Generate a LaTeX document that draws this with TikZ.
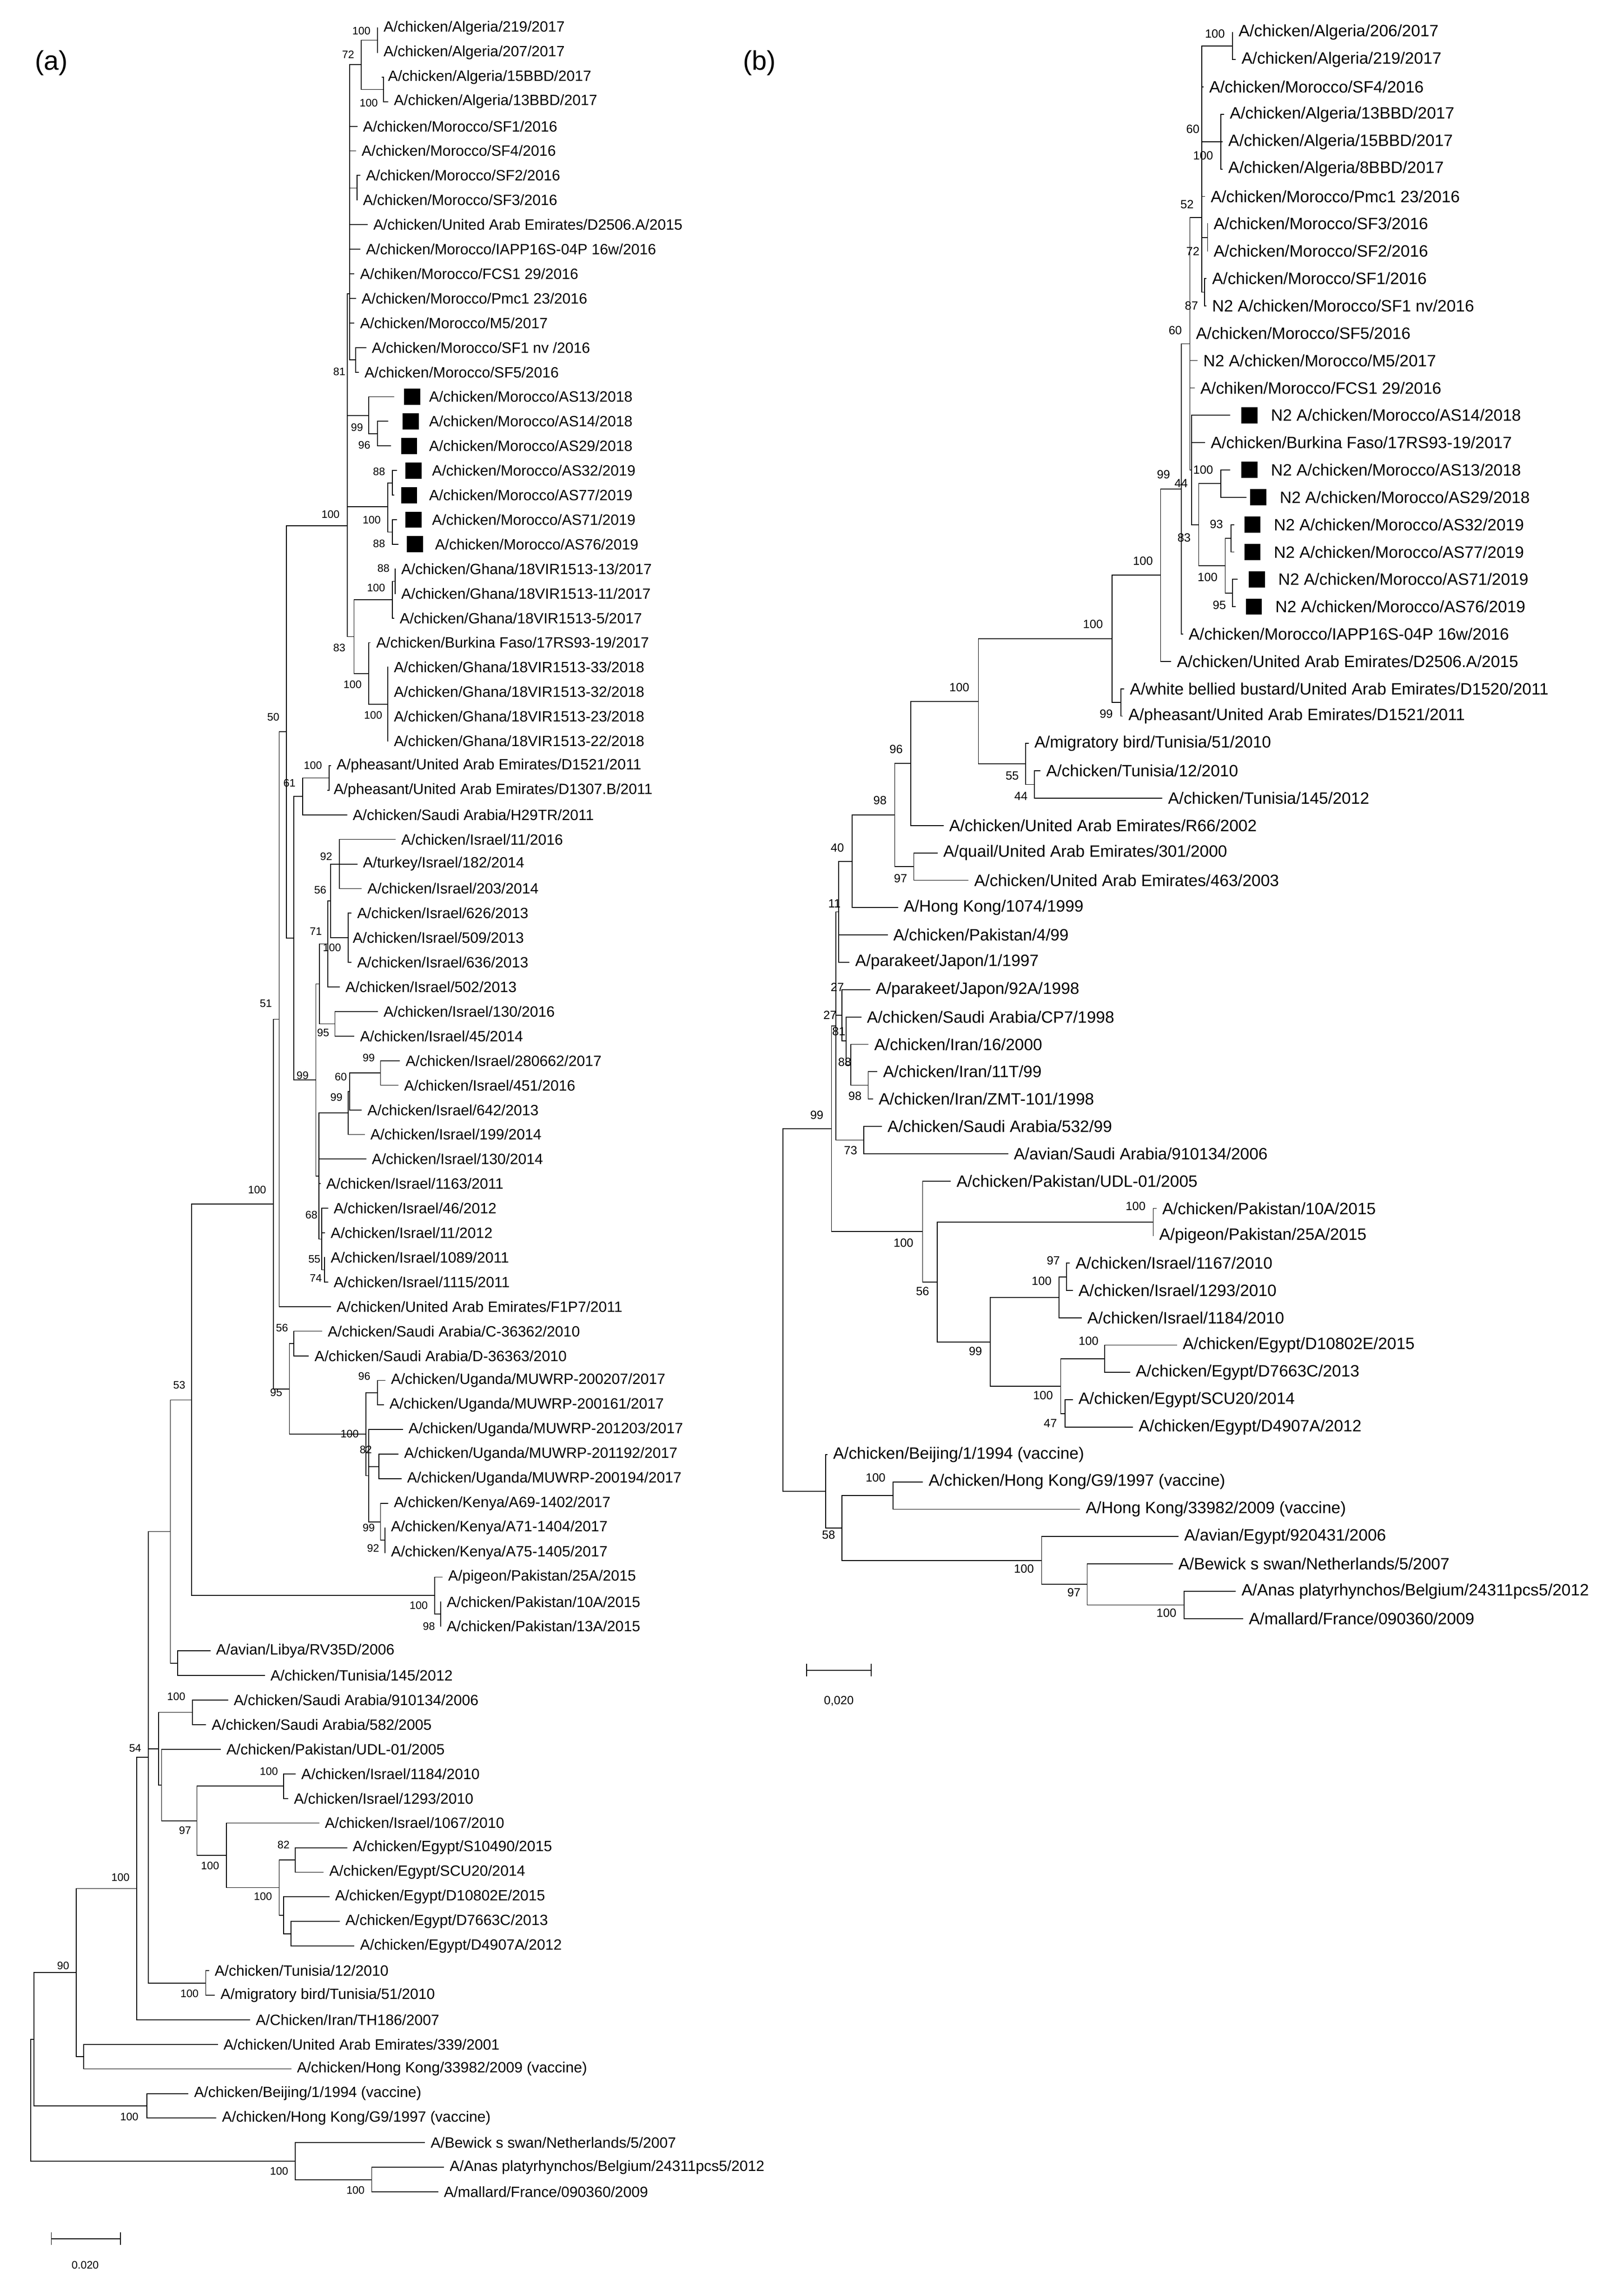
\documentclass[tikz,border=0pt]{standalone}
\usepackage{fontspec}
\setmainfont{Liberation Sans}
\tikzset{
 lbl/.style={anchor=west,inner sep=0pt,font=\fontsize{14.4}{16}\selectfont},
 bsl/.style={inner sep=0pt,font=\fontsize{10.5}{12}\selectfont},
 ttl/.style={inner sep=0pt,font=\fontsize{26}{30}\selectfont},
 br/.style={line width=0.8pt,line cap=rect}
}
\newcommand\LF[4]{\draw[br] (#1,#3) -- ({#2-4},#3); \node[lbl] at (#2,#3) {#4};}
\newcommand\LS[6]{\draw[br] (#1,#5) -- (#2,#5); \fill (#3,{#5-5.5}) rectangle ({#3+11},{#5+5.5}); \node[lbl] at (#4,#5) {#6};}
\newcommand\IN[5]{\draw[br] (#1,#2) -- (#1,#3); \draw[br] (#4,#5) -- (#1,#5);}
\newcommand\BS[3]{\node[bsl] at (#1,#2) {#3};}
\begin{document}
\begin{tikzpicture}[x=0.05cm,y=-0.05cm]
\useasboundingbox (0,0) rectangle (1100,1563);
\node[ttl] at (35,43) {(a)};
\node[ttl] at (517,43) {(b)};
% ================= (a) =================
\IN{257}{19}{35.7}{246}{27.4}
\IN{261}{52.5}{69.2}{246}{60.9}
\IN{246}{27.4}{60.9}{238}{44}
\IN{243}{119.4}{136.2}{238}{128}
\IN{242}{236.6}{253.4}{238}{245}
\IN{238}{44}{245}{236.5}{200}
\IN{257}{286.8}{303.6}{251}{295.2}
\IN{251}{270.1}{295.2}{236.5}{283}
\IN{267}{320.3}{337.1}{264}{328.7}
\IN{267}{353.8}{370.5}{264}{362.2}
\IN{264}{328.7}{362.2}{236.5}{345}
\IN{269}{387.3}{404}{267}{395.7}
\IN{267}{395.7}{420.8}{241}{408.2}
\IN{264}{454.2}{504.5}{251}{479.4}
\IN{251}{437.5}{479.4}{241}{458.5}
\IN{241}{408.2}{458.5}{236.5}{433.4}
\IN{236.5}{200}{433.4}{195}{358}
\IN{224}{521.2}{537.9}{206}{529.6}
\IN{206}{529.6}{554.7}{200}{542}
\IN{231}{571.4}{604.9}{225}{588.2}
\IN{237}{621.6}{655.1}{225}{638.4}
\IN{225}{588.2}{638.4}{223}{613.3}
\IN{223}{613.3}{671.9}{217.5}{642.6}
\IN{228}{688.6}{705.3}{217.5}{697}
\IN{217.5}{642.6}{697}{215}{669.8}
\IN{259}{722.1}{738.8}{238}{730.5}
\IN{238}{730.5}{755.6}{237}{743}
\IN{237}{743}{772.3}{217}{757.7}
\IN{221}{856}{872.7}{219}{864.4}
\IN{219}{822.5}{864.4}{217}{843.5}
\IN{217}{757.7}{843.5}{215}{800.6}
\IN{215}{669.8}{800.6}{200}{735.2}
\IN{200}{542}{735.2}{195}{638.6}
\IN{195}{358}{638.6}{190}{498}
\IN{190}{498}{889.5}{186}{693.8}
\IN{200}{906.2}{923}{197}{914.6}
\IN{257}{939.7}{956.4}{249}{948}
\IN{258}{989.9}{1006.7}{251}{998.3}
\IN{262}{1040.1}{1056.9}{259}{1048.5}
\IN{259}{1023.4}{1048.5}{251}{1036}
\IN{251}{973.2}{1036}{249}{1004.6}
\IN{249}{948}{1004.6}{197}{976.3}
\IN{197}{914.6}{976.3}{186}{945.5}
\IN{186}{693.8}{945.5}{130.5}{819.7}
\IN{300}{1090.4}{1107.1}{296}{1098.8}
\IN{296}{1073.6}{1098.8}{130.5}{1086.2}
\IN{130.5}{819.7}{1086.2}{116}{953}
\IN{121}{1123.8}{1140.6}{116}{1132.2}
\IN{116}{953}{1132.2}{101}{1042.6}
\IN{131}{1157.3}{1174.1}{108}{1165.7}
\IN{198}{1308}{1324.7}{193}{1316.4}
\IN{193}{1291.2}{1316.4}{190}{1303.8}
\IN{201}{1257.8}{1274.5}{190}{1266.2}
\IN{190}{1266.2}{1303.8}{154}{1285}
\IN{154}{1241}{1285}{134}{1263}
\IN{193}{1207.5}{1224.3}{134}{1215.9}
\IN{134}{1215.9}{1263}{110}{1239.5}
\IN{110}{1190.8}{1239.5}{108}{1215.1}
\IN{108}{1165.7}{1215.1}{101}{1190.4}
\IN{140}{1341.5}{1358.2}{101}{1349.9}
\IN{101}{1042.6}{1349.9}{93}{1196.2}
\IN{93}{1196.2}{1374.9}{52}{1285.6}
\IN{57}{1391.7}{1408.4}{52}{1400}
\IN{52}{1285.6}{1400}{23}{1342.8}
\IN{100}{1425.2}{1441.9}{23}{1433.5}
\IN{23}{1342.8}{1433.5}{21}{1388.2}
\IN{253}{1475.4}{1492.1}{201}{1483.8}
\IN{201}{1458.6}{1483.8}{21}{1471.2}
\draw[br] (21,1388.2) -- (21,1471.2);
% leaves (a)
\LF{257}{261}{19}{A/chicken/Algeria/219/2017}
\LF{257}{261}{35.7}{A/chicken/Algeria/207/2017}
\LF{261}{264}{52.5}{A/chicken/Algeria/15BBD/2017}
\LF{261}{268}{69.2}{A/chicken/Algeria/13BBD/2017}
\LF{238}{247}{86}{A/chicken/Morocco/SF1/2016}
\LF{238}{246}{102.7}{A/chicken/Morocco/SF4/2016}
\LF{243}{249}{119.4}{A/chicken/Morocco/SF2/2016}
\LF{243}{247}{136.2}{A/chicken/Morocco/SF3/2016}
\LF{238}{254}{152.9}{A/chicken/United Arab Emirates/D2506.A/2015}
\LF{238}{249}{169.7}{A/chicken/Morocco/IAPP16S-04P 16w/2016}
\LF{238}{245}{186.4}{A/chiken/Morocco/FCS1 29/2016}
\LF{238}{246}{203.1}{A/chicken/Morocco/Pmc1 23/2016}
\LF{238}{245}{219.9}{A/chicken/Morocco/M5/2017}
\LF{242}{253}{236.6}{A/chicken/Morocco/SF1 nv /2016}
\LF{242}{248}{253.4}{A/chicken/Morocco/SF5/2016}
\LS{251}{268}{275}{292}{270.1}{A/chicken/Morocco/AS13/2018}
\LS{257}{264}{274}{292}{286.8}{A/chicken/Morocco/AS14/2018}
\LS{257}{266}{273}{292}{303.6}{A/chicken/Morocco/AS29/2018}
\LS{267}{270}{276}{294}{320.3}{A/chicken/Morocco/AS32/2019}
\LS{267}{268}{273}{292}{337.1}{A/chicken/Morocco/AS77/2019}
\LS{267}{270}{276}{294}{353.8}{A/chicken/Morocco/AS71/2019}
\LS{267}{271}{277}{296}{370.5}{A/chicken/Morocco/AS76/2019}
\LF{269}{273}{387.3}{A/chicken/Ghana/18VIR1513-13/2017}
\LF{269}{273}{404}{A/chicken/Ghana/18VIR1513-11/2017}
\LF{267}{272}{420.8}{A/chicken/Ghana/18VIR1513-5/2017}
\LF{251}{256}{437.5}{A/chicken/Burkina Faso/17RS93-19/2017}
\LF{264}{268}{454.2}{A/chicken/Ghana/18VIR1513-33/2018}
\LF{264}{268}{471}{A/chicken/Ghana/18VIR1513-32/2018}
\LF{264}{268}{487.7}{A/chicken/Ghana/18VIR1513-23/2018}
\LF{264}{268}{504.5}{A/chicken/Ghana/18VIR1513-22/2018}
\LF{224}{229}{521.2}{A/pheasant/United Arab Emirates/D1521/2011}
\LF{224}{227}{537.9}{A/pheasant/United Arab Emirates/D1307.B/2011}
\LF{206}{240}{554.7}{A/chicken/Saudi Arabia/H29TR/2011}
\LF{231}{273}{571.4}{A/chicken/Israel/11/2016}
\LF{231}{247}{588.2}{A/turkey/Israel/182/2014}
\LF{231}{250}{604.9}{A/chicken/Israel/203/2014}
\LF{237}{243}{621.6}{A/chicken/Israel/626/2013}
\LF{237}{240}{638.4}{A/chicken/Israel/509/2013}
\LF{237}{243}{655.1}{A/chicken/Israel/636/2013}
\LF{223}{235}{671.9}{A/chicken/Israel/502/2013}
\LF{228}{261}{688.6}{A/chicken/Israel/130/2016}
\LF{228}{245}{705.3}{A/chicken/Israel/45/2014}
\LF{259}{276}{722.1}{A/chicken/Israel/280662/2017}
\LF{259}{275}{738.8}{A/chicken/Israel/451/2016}
\LF{238}{250}{755.6}{A/chicken/Israel/642/2013}
\LF{237}{252}{772.3}{A/chicken/Israel/199/2014}
\LF{217}{253}{789}{A/chicken/Israel/130/2014}
\LF{217}{222}{805.8}{A/chicken/Israel/1163/2011}
\LF{219}{227}{822.5}{A/chicken/Israel/46/2012}
\LF{219}{225}{839.3}{A/chicken/Israel/11/2012}
\LF{221}{225}{856}{A/chicken/Israel/1089/2011}
\LF{221}{227}{872.7}{A/chicken/Israel/1115/2011}
\LF{190}{229}{889.5}{A/chicken/United Arab Emirates/F1P7/2011}
\LF{200}{223}{906.2}{A/chicken/Saudi Arabia/C-36362/2010}
\LF{200}{214}{923}{A/chicken/Saudi Arabia/D-36363/2010}
\LF{257}{266}{939.7}{A/chicken/Uganda/MUWRP-200207/2017}
\LF{257}{265}{956.4}{A/chicken/Uganda/MUWRP-200161/2017}
\LF{251}{278}{973.2}{A/chicken/Uganda/MUWRP-201203/2017}
\LF{258}{275}{989.9}{A/chicken/Uganda/MUWRP-201192/2017}
\LF{258}{277}{1006.7}{A/chicken/Uganda/MUWRP-200194/2017}
\LF{259}{268}{1023.4}{A/chicken/Kenya/A69-1402/2017}
\LF{262}{266}{1040.1}{A/chicken/Kenya/A71-1404/2017}
\LF{262}{266}{1056.9}{A/chicken/Kenya/A75-1405/2017}
\LF{296}{305}{1073.6}{A/pigeon/Pakistan/25A/2015}
\LF{300}{304}{1090.4}{A/chicken/Pakistan/10A/2015}
\LF{300}{304}{1107.1}{A/chicken/Pakistan/13A/2015}
\LF{121}{147}{1123.8}{A/avian/Libya/RV35D/2006}
\LF{121}{184}{1140.6}{A/chicken/Tunisia/145/2012}
\LF{131}{159}{1157.3}{A/chicken/Saudi Arabia/910134/2006}
\LF{131}{144}{1174.1}{A/chicken/Saudi Arabia/582/2005}
\LF{110}{154}{1190.8}{A/chicken/Pakistan/UDL-01/2005}
\LF{193}{205}{1207.5}{A/chicken/Israel/1184/2010}
\LF{193}{200}{1224.3}{A/chicken/Israel/1293/2010}
\LF{154}{221}{1241}{A/chicken/Israel/1067/2010}
\LF{201}{240}{1257.8}{A/chicken/Egypt/S10490/2015}
\LF{201}{224}{1274.5}{A/chicken/Egypt/SCU20/2014}
\LF{193}{228}{1291.2}{A/chicken/Egypt/D10802E/2015}
\LF{198}{235}{1308}{A/chicken/Egypt/D7663C/2013}
\LF{198}{245}{1324.7}{A/chicken/Egypt/D4907A/2012}
\LF{140}{146}{1341.5}{A/chicken/Tunisia/12/2010}
\LF{140}{150}{1358.2}{A/migratory bird/Tunisia/51/2010}
\LF{93}{174}{1374.9}{A/Chicken/Iran/TH186/2007}
\LF{57}{152}{1391.7}{A/chicken/United Arab Emirates/339/2001}
\LF{57}{202}{1408.4}{A/chicken/Hong Kong/33982/2009 (vaccine)}
\LF{100}{132}{1425.2}{A/chicken/Beijing/1/1994 (vaccine)}
\LF{100}{151}{1441.9}{A/chicken/Hong Kong/G9/1997 (vaccine)}
\LF{201}{293}{1458.6}{A/Bewick s swan/Netherlands/5/2007}
\LF{253}{306}{1475.4}{A/Anas platyrhynchos/Belgium/24311pcs5/2012}
\LF{253}{302}{1492.1}{A/mallard/France/090360/2009}
% bootstrap (a)
\BS{246}{21}{100}\BS{237}{37}{72}\BS{251}{70}{100}\BS{231}{253}{81}
\BS{243}{291}{99}\BS{248}{303}{96}\BS{258}{321}{88}\BS{253}{354}{100}
\BS{258}{370}{88}\BS{225}{350}{100}\BS{261}{387}{88}\BS{256}{400}{100}
\BS{231}{441}{83}\BS{240}{466}{100}\BS{254}{487}{100}\BS{186}{488}{50}
\BS{213}{521}{100}\BS{197}{533}{61}\BS{222}{583}{92}\BS{218}{606}{56}
\BS{215}{634}{71}\BS{226}{645}{100}\BS{181}{683}{51}\BS{220}{703}{95}
\BS{206}{732}{99}\BS{251}{720}{99}\BS{232}{733}{60}\BS{229}{747}{99}
\BS{175}{810}{100}\BS{212}{827}{68}\BS{214}{857}{55}\BS{215}{870}{74}
\BS{192}{904}{56}\BS{188}{948}{95}\BS{248}{937}{96}\BS{238}{976}{100}
\BS{249}{987}{82}\BS{251}{1040}{99}\BS{254}{1054}{92}\BS{122}{943}{53}
\BS{285}{1093}{100}\BS{292}{1107}{98}\BS{120}{1155}{100}\BS{92}{1190}{54}
\BS{126}{1246}{97}\BS{183}{1206}{100}\BS{193}{1256}{82}\BS{143}{1270}{100}
\BS{179}{1291}{100}\BS{82}{1278}{100}\BS{43}{1338}{90}\BS{129}{1357}{100}
\BS{88}{1441}{100}\BS{190}{1478}{100}\BS{242}{1491}{100}
% scale (a)
\draw[br] (35,1524) -- (82,1524);
\draw[br] (35,1520) -- (35,1528);
\draw[br] (82,1520) -- (82,1528);
\node[bsl] at (58,1542) {0.020};
% ================= (b) =================
\begin{scope}[lbl/.style={anchor=west,inner sep=0pt,font=\fontsize{15.9}{18}\selectfont},
              bsl/.style={inner sep=0pt,font=\fontsize{11.5}{13}\selectfont}]
\IN{839}{22}{40.6}{818}{31.3}
\IN{831}{77.9}{115.1}{818}{96.5}
\IN{822}{152.3}{171}{818}{161.6}
\IN{820}{189.6}{208.2}{818}{198.9}
\IN{818}{31.3}{198.9}{810}{148}
\IN{831}{319.9}{338.5}{816}{329.2}
\IN{838}{357.2}{375.8}{834}{366.5}
\IN{839}{394.4}{413}{834}{403.7}
\IN{834}{366.5}{403.7}{816}{385.1}
\IN{816}{329.2}{385.1}{811}{357.2}
\IN{811}{282.7}{357.2}{810}{320}
\IN{810}{148}{320}{804}{234}
\IN{804}{234}{431.6}{790}{332.8}
\IN{790}{332.8}{450.2}{757}{391.5}
\IN{763}{468.9}{487.5}{757}{478.2}
\IN{757}{391.5}{478.2}{666}{434.9}
\IN{704}{524.7}{543.3}{698}{534}
\IN{698}{506.1}{534}{666}{520}
\IN{666}{434.9}{520}{620}{477.5}
\IN{620}{477.5}{562}{609}{519.7}
\IN{622}{580.6}{599.2}{609}{589.9}
\IN{609}{519.7}{589.9}{580}{554.8}
\IN{580}{554.8}{617.8}{571}{586.3}
\IN{571}{586.3}{655}{569}{620.7}
\IN{591}{729.5}{748.1}{579}{738.8}
\IN{579}{710.9}{738.8}{576}{724.9}
\IN{576}{692.3}{724.9}{573}{708.6}
\IN{573}{673.7}{708.6}{569}{691.2}
\IN{588}{766.8}{785.4}{569}{776.1}
\IN{569}{620.7}{776.1}{566}{698.4}
\IN{785}{822.6}{841.2}{638}{831.9}
\IN{726}{859.8}{878.5}{721}{869.2}
\IN{721}{869.2}{897.1}{674}{883.2}
\IN{752}{915.7}{934.3}{722}{925}
\IN{725}{952.9}{971.6}{722}{962.3}
\IN{722}{925}{962.3}{674}{943.7}
\IN{674}{883.2}{943.7}{638}{913.5}
\IN{638}{831.9}{913.5}{628}{872.7}
\IN{628}{804}{872.7}{566}{838.4}
\IN{566}{698.4}{838.4}{533}{768.4}
\IN{608}{1008.8}{1027.4}{573}{1018.1}
\IN{806}{1083.3}{1101.9}{740}{1092.6}
\IN{740}{1064.6}{1092.6}{709}{1078.6}
\IN{709}{1046}{1078.6}{573}{1062.3}
\IN{573}{1018.1}{1062.3}{562}{1040.2}
\IN{562}{990.2}{1040.2}{533}{1015.2}
\draw[br] (533,768.4) -- (533,1015.2);
% leaves (b)
\LF{839}{843}{22}{A/chicken/Algeria/206/2017}
\LF{839}{845}{40.6}{A/chicken/Algeria/219/2017}
\LF{818}{823}{59.2}{A/chicken/Morocco/SF4/2016}
\LF{831}{837}{77.9}{A/chicken/Algeria/13BBD/2017}
\LF{831}{836}{96.5}{A/chicken/Algeria/15BBD/2017}
\LF{831}{836}{115.1}{A/chicken/Algeria/8BBD/2017}
\LF{818}{824}{133.7}{A/chicken/Morocco/Pmc1 23/2016}
\LF{822}{826}{152.3}{A/chicken/Morocco/SF3/2016}
\LF{822}{826}{171}{A/chicken/Morocco/SF2/2016}
\LF{820}{825}{189.6}{A/chicken/Morocco/SF1/2016}
\LF{820}{825}{208.2}{N2 A/chicken/Morocco/SF1 nv/2016}
\LF{810}{814}{226.8}{A/chicken/Morocco/SF5/2016}
\LF{810}{819}{245.4}{N2 A/chicken/Morocco/M5/2017}
\LF{810}{817}{264.1}{A/chiken/Morocco/FCS1 29/2016}
\LS{811}{837}{845}{865}{282.7}{N2 A/chicken/Morocco/AS14/2018}
\LF{811}{824}{301.3}{A/chicken/Burkina Faso/17RS93-19/2017}
\LS{831}{837}{845}{865}{319.9}{N2 A/chicken/Morocco/AS13/2018}
\LS{831}{848}{851}{871}{338.5}{N2 A/chicken/Morocco/AS29/2018}
\LS{838}{840}{847}{867}{357.2}{N2 A/chicken/Morocco/AS32/2019}
\LS{838}{840}{847}{867}{375.8}{N2 A/chicken/Morocco/AS77/2019}
\LS{839}{842}{850}{870}{394.4}{N2 A/chicken/Morocco/AS71/2019}
\LS{839}{841}{848}{868}{413}{N2 A/chicken/Morocco/AS76/2019}
\LF{804}{809}{431.6}{A/chicken/Morocco/IAPP16S-04P 16w/2016}
\LF{790}{801}{450.2}{A/chicken/United Arab Emirates/D2506.A/2015}
\LF{763}{769}{468.9}{A/white bellied bustard/United Arab Emirates/D1520/2011}
\LF{763}{768}{487.5}{A/pheasant/United Arab Emirates/D1521/2011}
\LF{698}{704}{506.1}{A/migratory bird/Tunisia/51/2010}
\LF{704}{712}{524.7}{A/chicken/Tunisia/12/2010}
\LF{704}{795}{543.3}{A/chicken/Tunisia/145/2012}
\LF{620}{646}{562}{A/chicken/United Arab Emirates/R66/2002}
\LF{622}{642}{580.6}{A/quail/United Arab Emirates/301/2000}
\LF{622}{663}{599.2}{A/chicken/United Arab Emirates/463/2003}
\LF{580}{615}{617.8}{A/Hong Kong/1074/1999}
\LF{571}{608}{636.4}{A/chicken/Pakistan/4/99}
\LF{571}{582}{655}{A/parakeet/Japon/1/1997}
\LF{573}{596}{673.7}{A/parakeet/Japon/92A/1998}
\LF{576}{590}{692.3}{A/chicken/Saudi Arabia/CP7/1998}
\LF{579}{595}{710.9}{A/chicken/Iran/16/2000}
\LF{591}{601}{729.5}{A/chicken/Iran/11T/99}
\LF{591}{598}{748.1}{A/chicken/Iran/ZMT-101/1998}
\LF{588}{604}{766.8}{A/chicken/Saudi Arabia/532/99}
\LF{588}{690}{785.4}{A/avian/Saudi Arabia/910134/2006}
\LF{628}{651}{804}{A/chicken/Pakistan/UDL-01/2005}
\LF{785}{791}{822.6}{A/chicken/Pakistan/10A/2015}
\LF{785}{789}{841.2}{A/pigeon/Pakistan/25A/2015}
\LF{726}{732}{859.8}{A/chicken/Israel/1167/2010}
\LF{726}{734}{878.5}{A/chicken/Israel/1293/2010}
\LF{721}{740}{897.1}{A/chicken/Israel/1184/2010}
\LF{752}{805}{915.7}{A/chicken/Egypt/D10802E/2015}
\LF{752}{773}{934.3}{A/chicken/Egypt/D7663C/2013}
\LF{725}{734}{952.9}{A/chicken/Egypt/SCU20/2014}
\LF{725}{775}{971.6}{A/chicken/Egypt/D4907A/2012}
\LF{562}{567}{990.2}{A/chicken/Beijing/1/1994 (vaccine)}
\LF{608}{632}{1008.8}{A/chicken/Hong Kong/G9/1997 (vaccine)}
\LF{608}{739}{1027.4}{A/Hong Kong/33982/2009 (vaccine)}
\LF{709}{806}{1046}{A/avian/Egypt/920431/2006}
\LF{740}{802}{1064.6}{A/Bewick s swan/Netherlands/5/2007}
\LF{806}{845}{1083.3}{A/Anas platyrhynchos/Belgium/24311pcs5/2012}
\LF{806}{850}{1101.9}{A/mallard/France/090360/2009}
% bootstrap (b)
\BS{827}{23}{100}\BS{812}{88}{60}\BS{819}{106}{100}\BS{808}{139}{52}
\BS{812}{171}{72}\BS{811}{208}{87}\BS{800}{225}{60}\BS{792}{323}{99}
\BS{804}{329}{44}\BS{819}{320}{100}\BS{828}{357}{93}\BS{806}{366}{83}
\BS{822}{393}{100}\BS{830}{412}{95}\BS{778}{382}{100}\BS{744}{425}{100}
\BS{753}{486}{99}\BS{653}{468}{100}\BS{689}{528}{55}\BS{695}{542}{44}
\BS{610}{510}{96}\BS{599}{545}{98}\BS{613}{598}{97}\BS{570}{577}{40}
\BS{568}{615}{11}\BS{570}{672}{27}\BS{565}{691}{27}\BS{571}{702}{81}
\BS{575}{723}{88}\BS{582}{746}{98}\BS{579}{783}{73}\BS{556}{759}{99}
\BS{615}{846}{100}\BS{773}{821}{100}\BS{717}{858}{97}\BS{709}{872}{100}
\BS{628}{879}{56}\BS{664}{920}{99}\BS{741}{913}{100}\BS{710}{950}{100}
\BS{715}{969}{47}\BS{596}{1006}{100}\BS{564}{1045}{58}\BS{697}{1068}{100}
\BS{731}{1084}{97}\BS{794}{1098}{100}
% scale (b)
\draw[br] (549,1137) -- (593,1137);
\draw[br] (549,1133) -- (549,1141);
\draw[br] (593,1133) -- (593,1141);
\node[bsl] at (571,1158) {0,020};
\end{scope}
\end{tikzpicture}
\end{document}
